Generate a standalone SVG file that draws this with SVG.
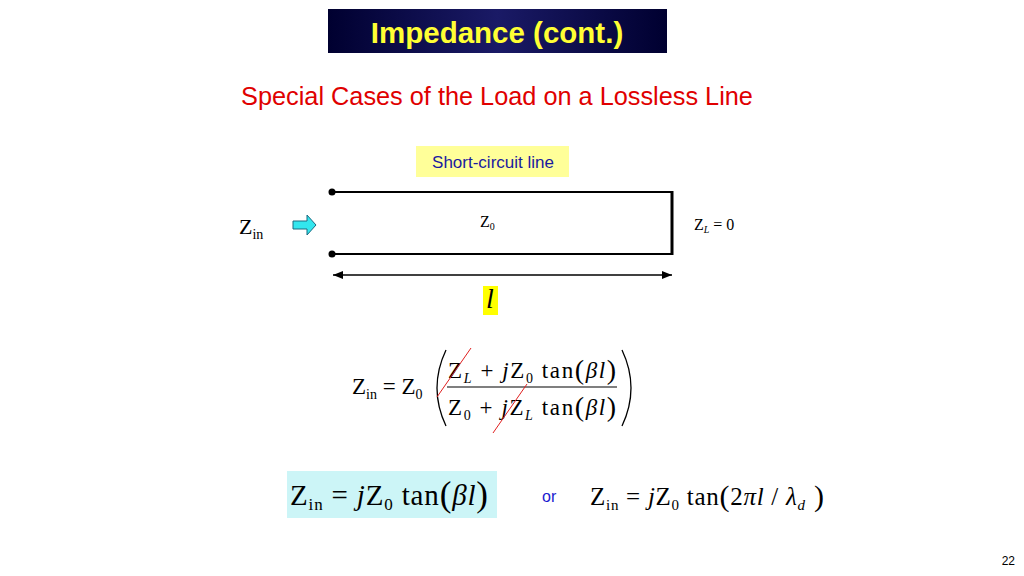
<svg xmlns="http://www.w3.org/2000/svg" width="1024" height="576" viewBox="0 0 1024 576">
<defs>
<linearGradient id="tg" x1="0" y1="0" x2="1" y2="0"><stop offset="0" stop-color="#000030"/><stop offset="0.5" stop-color="#1a1a66"/><stop offset="1" stop-color="#000030"/></linearGradient>
<marker id="ah" viewBox="0 0 10 10" refX="10" refY="5" markerWidth="8" markerHeight="8" orient="auto-start-reverse"><path d="M0,1 L10,5 L0,9 z" fill="#000"/></marker>
</defs>
<style>
.m{font-family:"Liberation Serif",serif;fill:#000}
.i{font-style:italic}
.s{font-family:"Liberation Sans",sans-serif}
</style>
<rect width="1024" height="576" fill="#fff"/>
<g id="title"><rect x="328" y="9" width="339" height="44" fill="url(#tg)"/><text x="497" y="43" text-anchor="middle" class="s" font-size="29.5" font-weight="bold" fill="#ffff33">Impedance (cont.)</text></g>
<text x="497" y="105" text-anchor="middle" class="s" font-size="25.3" fill="#e00000">Special Cases of the Load on a Lossless Line</text>
<g id="label"><rect x="416" y="146" width="153" height="31" fill="#ffff99"/><text x="493" y="168" text-anchor="middle" class="s" font-size="17" fill="#1a1aa0">Short-circuit line</text></g>
<g id="line">
<line x1="332" y1="192" x2="672" y2="192" stroke="#000" stroke-width="2"/>
<line x1="332" y1="254" x2="672" y2="254" stroke="#000" stroke-width="2"/>
<line x1="672" y1="191" x2="672" y2="255" stroke="#000" stroke-width="3"/>
<circle cx="332" cy="192" r="3.5"/><circle cx="332" cy="254" r="3.5"/>
<path d="M293,221 h14 v-6 l9,10 l-9,10 v-6 h-14 z" fill="#33e6ee" stroke="#1a6a80" stroke-width="1"/>
</g>
<g id="connectors"><line x1="333" y1="275" x2="672" y2="275" stroke="#000" stroke-width="1.3" marker-start="url(#ah)" marker-end="url(#ah)"/></g>
<text x="239" y="234" class="m" font-size="22">Z<tspan font-size="14" dy="5">in</tspan></text>
<text x="480" y="227" class="m" font-size="16">Z<tspan font-size="10" dy="3">0</tspan></text>
<text x="694" y="230" class="m" font-size="16">Z<tspan font-size="10" dy="3" class="i">L</tspan><tspan dy="-3"> = 0</tspan></text>
<rect x="483" y="286" width="15" height="29" fill="#ffff00"/>
<text x="490" y="308" text-anchor="middle" class="m i" font-size="28">l</text>
<g id="eq1" class="m" font-size="23">
<text x="352" y="394">Z<tspan font-size="14" dy="5">in</tspan><tspan dy="-5"> = Z</tspan><tspan font-size="14" dy="5">0</tspan></text>
<text x="448" y="378" textLength="168" lengthAdjust="spacing">Z<tspan font-size="14" dy="5" class="i">L</tspan><tspan dy="-5"> + </tspan><tspan class="i">j</tspan>Z<tspan font-size="14" dy="5">0</tspan><tspan dy="-5"> tan</tspan><tspan font-size="28" dy="1">(</tspan><tspan class="i" dy="-1">βl</tspan><tspan font-size="28" dy="1">)</tspan></text>
<line x1="447" y1="387" x2="617" y2="387" stroke="#000" stroke-width="1.2"/>
<text x="448" y="415" textLength="168" lengthAdjust="spacing">Z<tspan font-size="14" dy="5">0</tspan><tspan dy="-5"> + </tspan><tspan class="i">j</tspan>Z<tspan font-size="14" dy="5" class="i">L</tspan><tspan dy="-5"> tan</tspan><tspan font-size="28" dy="1">(</tspan><tspan class="i" dy="-1">βl</tspan><tspan font-size="28" dy="1">)</tspan></text>
<path d="M446,350 Q428,388 446,426" fill="none" stroke="#000" stroke-width="1.3"/>
<path d="M622,350 Q640,388 622,426" fill="none" stroke="#000" stroke-width="1.3"/>
<line x1="437" y1="397" x2="471" y2="348" stroke="#e02020" stroke-width="1"/>
<line x1="493" y1="433" x2="527" y2="384" stroke="#e02020" stroke-width="1"/>
</g>
<g id="eq2" class="m" font-size="29">
<rect x="287" y="471" width="210" height="47" fill="#ccf5f7"/>
<text x="290" y="505" textLength="198" lengthAdjust="spacing">Z<tspan font-size="17" dy="5">in</tspan><tspan dy="-5"> = </tspan><tspan class="i">j</tspan>Z<tspan font-size="17" dy="5">0</tspan><tspan dy="-5"> tan</tspan><tspan font-size="35" dy="1">(</tspan><tspan class="i" dy="-1">βl</tspan><tspan font-size="35" dy="1">)</tspan></text>
</g>
<text x="542" y="502" class="s" font-size="16" fill="#1a1ad0">or</text>
<text x="590" y="505" class="m" font-size="25" textLength="234" lengthAdjust="spacing">Z<tspan font-size="15" dy="5">in</tspan><tspan dy="-5"> = </tspan><tspan class="i">j</tspan>Z<tspan font-size="15" dy="5">0</tspan><tspan dy="-5"> tan</tspan><tspan font-size="30" dy="1">(</tspan><tspan dy="-1">2</tspan><tspan class="i">πl</tspan><tspan> / </tspan><tspan class="i">λ</tspan><tspan font-size="15" dy="5" class="i">d</tspan><tspan dy="-4" font-size="30"> )</tspan></text>
<text x="1015" y="565" text-anchor="end" class="s" font-size="12" fill="#000">22</text>
</svg>
